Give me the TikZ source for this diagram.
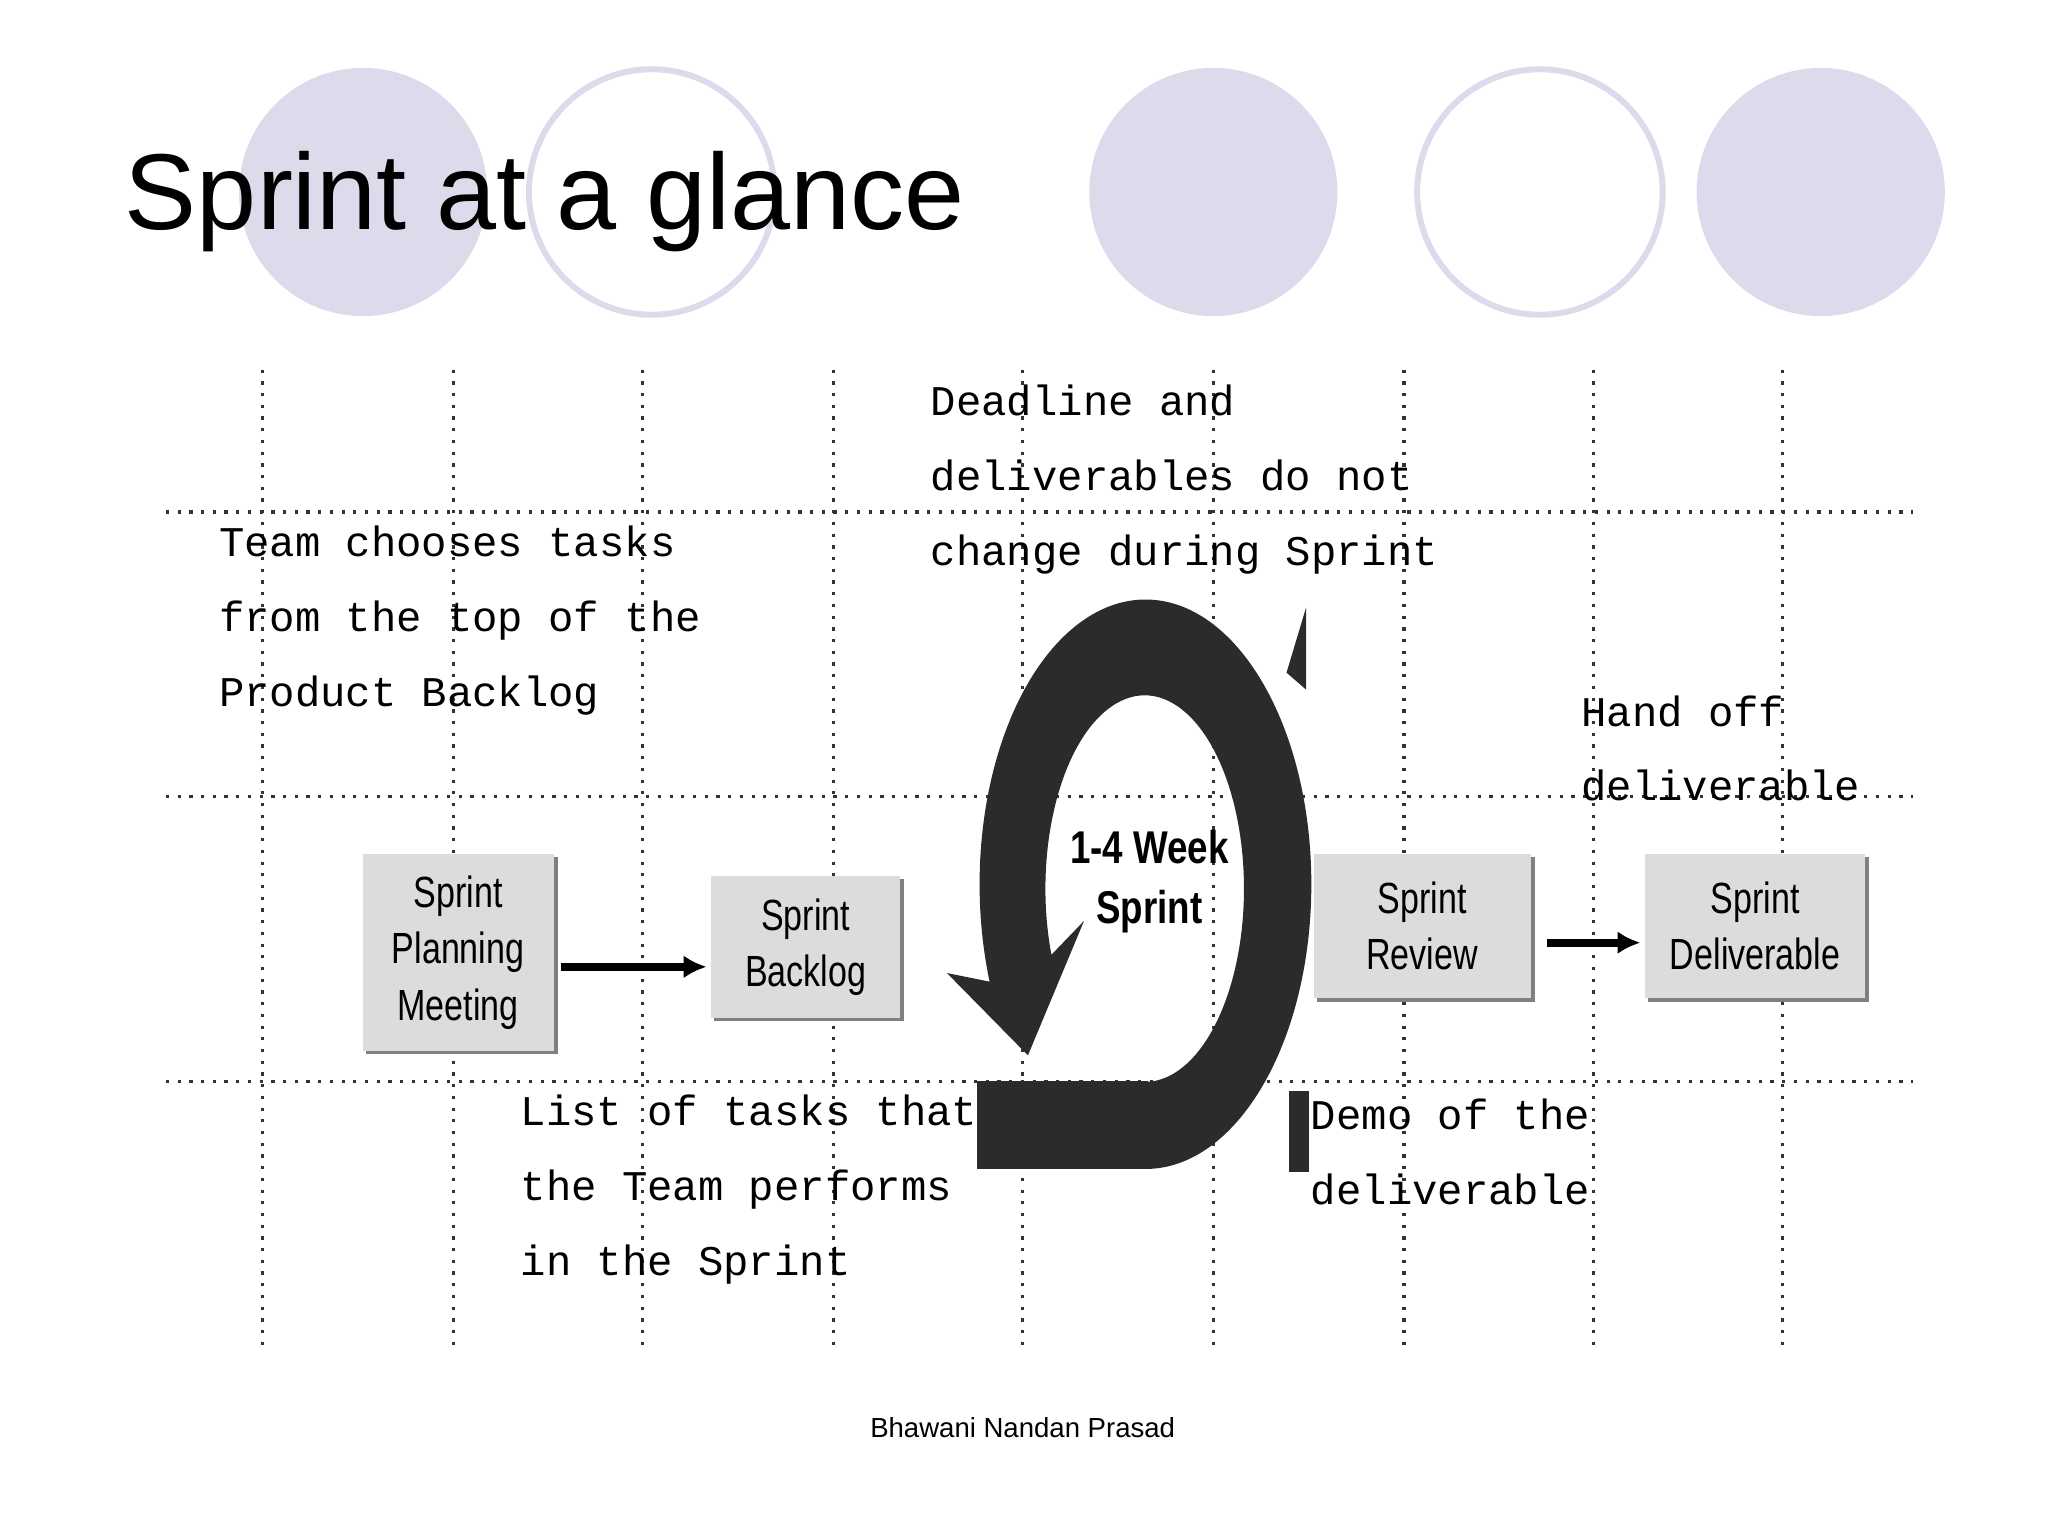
\documentclass[tikz,border=0pt]{standalone}
\usepackage{fontspec}
\setmainfont{Liberation Sans}
\newfontfamily\monof{Liberation Mono}
\newfontfamily\narrowf{Liberation Sans}
\usetikzlibrary{arrows.meta,calc}
\definecolor{lavfill}{HTML}{DCDAEB}
\definecolor{boxgray}{HTML}{DCDCDC}
\definecolor{dark}{HTML}{2B2B2B}
\begin{document}
\begin{tikzpicture}[x=0.01cm,y=-0.01cm,
  lavo/.style={draw=lavfill,line width=1.3pt,fill=white},
  grid/.style={line width=0.7pt,dash pattern=on 0.7pt off 1.85pt,black!80},
  mono/.style={font=\monof\fontsize{9.2}{16.3}\selectfont,align=left,anchor=west,inner sep=0},
  box/.style={fill=boxgray,draw=none,font=\narrowf\fontsize{9.5}{12.3}\selectfont,align=center,inner sep=0},
  conn/.style={line width=1.8pt,-{Latex[length=5pt,width=5pt]}}]
\useasboundingbox (0,0) rectangle (1568,1176);
% circles
\fill[lavfill] (278,147) circle (95);
\draw[lavo] (499,147) circle (94);
\fill[lavfill] (929,147) circle (95);
\draw[lavo] (1179,147) circle (94);
\fill[lavfill] (1394,147) circle (95);
\node[anchor=base west,inner sep=0,font=\fontsize{23.5}{28}\selectfont] (title) at (95,176) {Sprint at a glance};
% grid
\foreach \x in {201,347,492,638,783,929,1075,1220,1365} \draw[grid] (\x,283) -- (\x,1030);
\foreach \y in {392,610,828} \draw[grid] (127,\y) -- (1465,\y);
% circular arrow
\fill[dark] (877,895) arc[start angle=90,end angle=-200,x radius=127,y radius=218]
  -- (725,745) -- (787,808) -- (830,705) -- (805,731)
  arc[start angle=-200,end angle=90,x radius=76,y radius=148] -- (877,828) -- cycle;
\fill[dark] (748,828) rectangle (879,895);
\fill[dark] (985,515) -- (1000,465) -- (1000,528) -- cycle;
\fill[dark] (987,835) rectangle (1002,897);
\node[font=\bfseries\fontsize{10}{13}\selectfont,align=center,inner sep=0] (wk) at (880,675) {\scalebox{0.8}[1]{1-4 Week}\\\scalebox{0.8}[1]{Sprint}};
% boxes
\fill[gray] (280,656) rectangle (427,807);
\node[box,minimum width=1.46cm,minimum height=1.51cm,anchor=north west] (spm) at (277,653) {\scalebox{0.78}[1]{Sprint}\\\scalebox{0.78}[1]{Planning}\\\scalebox{0.78}[1]{Meeting}};
\fill[gray] (547,673) rectangle (692,782);
\node[box,minimum width=1.44cm,minimum height=1.09cm,anchor=north west] (sb) at (544,670) {\scalebox{0.78}[1]{Sprint}\\\scalebox{0.78}[1]{Backlog}};
\fill[gray] (1008,656) rectangle (1175,767);
\node[box,minimum width=1.66cm,minimum height=1.10cm,anchor=north west] (sr) at (1005,653) {\scalebox{0.78}[1]{Sprint}\\\scalebox{0.78}[1]{Review}};
\fill[gray] (1262,656) rectangle (1431,767);
\node[box,minimum width=1.68cm,minimum height=1.10cm,anchor=north west] (sd) at (1259,653) {\scalebox{0.78}[1]{Sprint}\\\scalebox{0.78}[1]{Deliverable}};
\coordinate (a1) at ($(spm.east|-sb.center)+(5,15)$);
\coordinate (a2) at ($(sb.west)+(-3,15)$);
\draw[conn] (a1) -- (a2);
\coordinate (b1) at ($(sr.east)+(12,13)$);
\coordinate (b2) at ($(sd.west)+(-3,13)$);
\draw[conn] (b1) -- (b2);
% texts
\node[mono] (t1) at (712,367) {Deadline and\\deliverables do not\\change during Sprint};
\node[mono] (t2) at (167,475) {Team chooses tasks\\from the top of the\\Product Backlog};
\node[mono] (t3) at (1210,573) {Hand off\\deliverable};
\node[mono] (t4) at (398,911) {List of tasks that\\the Team performs\\in the Sprint};
\node[mono] (t5) at (1003,882) {Demo of the\\deliverable};
\node[font=\fontsize{6}{7}\selectfont,inner sep=0] (ft) at (783,1093) {Bhawani Nandan Prasad};
\end{tikzpicture}
\end{document}
